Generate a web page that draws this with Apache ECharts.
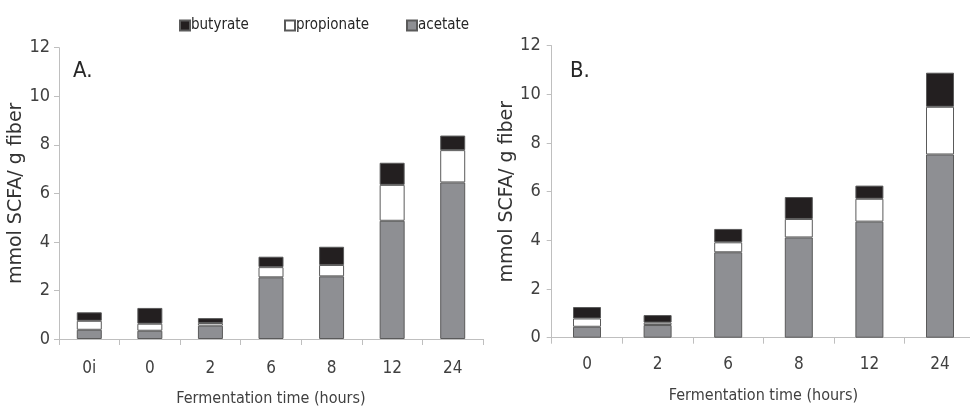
<!DOCTYPE html>
<html>
<head>
<meta charset="utf-8">
<script src="https://cdn.jsdelivr.net/npm/echarts@6/dist/echarts.min.js"></script>
<style>html,body{margin:0;padding:0;background:#fff}#c{width:970px;height:408px}</style>
</head>
<body>
<div id="c"></div>
<script>
// Panel A
const catsA = ['0i', '0', '2', '6', '8', '12', '24'];
const acetateA = [0.38, 0.34, 0.55, 2.54, 2.58, 4.87, 6.45];
const propionateA = [0.37, 0.29, 0.11, 0.42, 0.47, 1.48, 1.33];
const butyrateA = [0.35, 0.65, 0.20, 0.43, 0.75, 0.91, 0.60];
// Panel B
const catsB = ['0', '2', '6', '8', '12', '24'];
const acetateB = [0.45, 0.52, 3.51, 4.12, 4.77, 7.53];
const propionateB = [0.34, 0.10, 0.41, 0.76, 0.94, 1.96];
const butyrateB = [0.47, 0.31, 0.55, 0.90, 0.54, 1.40];
const yTicks = [0, 2, 4, 6, 8, 10, 12];
const legendNames = ['butyrate', 'propionate', 'acetate'];

const FONT = "'DejaVu Sans Condensed', 'Liberation Sans Narrow', sans-serif";
const TXT = '#404040';
const AX = '#bfbfbf';
const colors = { acetate: '#8e8f93', propionate: '#ffffff', butyrate: '#231f20' };

function yAxis(gi, gap, margin) {
  return {
    gridIndex: gi, type: 'value', min: yTicks[0], max: yTicks[yTicks.length - 1], interval: 2,
    name: 'mmol SCFA/ g fiber', nameLocation: 'middle', nameGap: gap,
    nameTextStyle: { fontFamily: "'DejaVu Sans', sans-serif", fontSize: 19, color: '#333' },
    axisLine: { show: true, lineStyle: { color: AX, width: 1 } },
    axisTick: { show: true, length: 5, lineStyle: { color: AX } },
    splitLine: { show: false },
    axisLabel: { fontFamily: FONT, fontSize: 18, color: TXT, margin: margin }
  };
}
function xAxis(gi, cats, gap, margin) {
  return {
    gridIndex: gi, type: 'category', data: cats, boundaryGap: true,
    name: 'Fermentation time (hours)', nameLocation: 'middle', nameGap: gap,
    nameTextStyle: { fontFamily: FONT, fontSize: 16, color: TXT },
    axisLine: { show: true, lineStyle: { color: AX, width: 1 } },
    axisTick: { show: true, length: 6, lineStyle: { color: AX } },
    axisLabel: { fontFamily: FONT, fontSize: 17, color: TXT, margin: margin }
  };
}
function bar(name, data, idx, stack, w) {
  return {
    name: name, type: 'bar', stack: stack, xAxisIndex: idx, yAxisIndex: idx, data: data,
    barWidth: w,
    itemStyle: { color: colors[name], borderColor: '#5a5a5a', borderWidth: 1 },
    emphasis: { disabled: true }
  };
}
const legendLeft = [174, 279, 401];
function legend(i) {
  return {
    data: [legendNames[i]], left: legendLeft[i], top: 13, icon: 'rect', itemWidth: 10, itemHeight: 10,
    textStyle: { fontFamily: FONT, fontSize: 15, color: '#262626', padding: [0, 0, 0, -4] }
  };
}

const chart = echarts.init(document.getElementById('c'), null, { renderer: 'canvas' });
chart.setOption({
  animation: false,
  backgroundColor: '#fff',
  title: [
    { text: 'A.', left: 68, top: 55, textStyle: { fontFamily: FONT, fontSize: 22, fontWeight: 'normal', color: '#262626' } },
    { text: 'B.', left: 565, top: 55, textStyle: { fontFamily: FONT, fontSize: 22, fontWeight: 'normal', color: '#262626' } }
  ],
  legend: [legend(0), legend(1), legend(2)],
  grid: [
    { left: 59, top: 47.7, width: 424, height: 291.3, outerBoundsMode: 'none', containLabel: false },
    { left: 551.7, top: 45.7, width: 423.6, height: 292, outerBoundsMode: 'none', containLabel: false }
  ],
  xAxis: [xAxis(0, catsA, 52, 21), xAxis(1, catsB, 50, 18)],
  yAxis: [yAxis(0, 30, 9), yAxis(1, 21, 11)],
  series: [
    bar('acetate', acetateA, 0, 'A', 25),
    bar('propionate', propionateA, 0, 'A', 25),
    bar('butyrate', butyrateA, 0, 'A', 25),
    bar('acetate', acetateB, 1, 'B', 28),
    bar('propionate', propionateB, 1, 'B', 28),
    bar('butyrate', butyrateB, 1, 'B', 28)
  ]
});
</script>
</body>
</html>
